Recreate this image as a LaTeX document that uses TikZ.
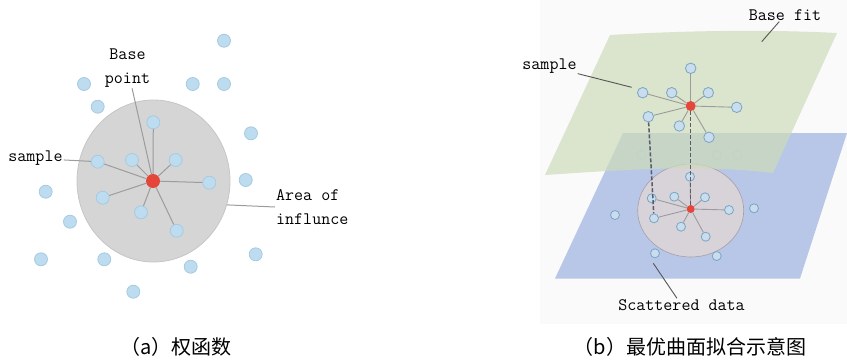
\documentclass[tikz,border=0pt]{standalone}
\usepackage{fontspec}
\usepackage{xcolor}
\newfontfamily\cjkfont{Noto Sans CJK SC}
\usetikzlibrary{positioning}
\usetikzlibrary{shapes.geometric}

\definecolor{dotfill}{HTML}{BEDCF0}
\definecolor{dotedge}{HTML}{A6CAE2}
\definecolor{lowfill}{HTML}{C9DDEE}
\definecolor{lowedge}{HTML}{78A6C2}
\definecolor{basered}{HTML}{E4463A}
\definecolor{linkgrey}{HTML}{9C9C9C}
\definecolor{areagrey}{HTML}{D5D5D5}
\definecolor{areaedge}{HTML}{C6C6C6}
\definecolor{discgrey}{HTML}{D7D3D9}
\definecolor{discedge}{HTML}{A59FA8}
\definecolor{blueplane}{HTML}{B8C7E8}
\definecolor{greenplane}{HTML}{CEDBBA}
\definecolor{panelbg}{HTML}{FAFAFA}
\definecolor{leadgrey}{HTML}{555555}
\definecolor{dashgrey}{HTML}{5A5A68}

\begin{document}
\begin{tikzpicture}[x=1pt,y=-1pt,
    sample node/.style={circle,draw=dotedge,fill=dotfill,line width=0.8pt,inner sep=0pt,minimum size=13pt},
    base node/.style={circle,fill=basered,inner sep=0pt,minimum size=14pt},
    low node/.style={circle,draw=lowedge,fill=lowfill,line width=0.8pt,inner sep=0pt,minimum size=9pt},
    up node/.style={low node,minimum size=10.5pt},
    ghost node/.style={circle,draw=lowedge!70,line width=0.8pt,inner sep=0pt,minimum size=9pt},
    label text/.style={font=\ttfamily\fontsize{17.5}{23.5}\selectfont,inner sep=1pt,align=left},
    link/.style={draw=linkgrey,line width=1pt},
    leader/.style={draw=leadgrey,line width=0.9pt},
    dashed link/.style={draw=dashgrey,line width=1.5pt,dash pattern=on 4pt off 2pt}]
\useasboundingbox (0,0) rectangle (847,360);

% (a) weight function
\node[ellipse,draw=areaedge,fill=areagrey,line width=0.8pt,minimum width=153pt,minimum height=162pt] (area) at (153.5,181) {};
\node[base node] (base) at (153,181) {};

\node[sample node] (s1) at (153.3,122.3) {};
\node[sample node] (s2) at (97.7,161.7) {};
\node[sample node] (s3) at (132,160) {};
\node[sample node] (s4) at (175.7,160) {};
\node[sample node] (s5) at (209.3,182.7) {};
\node[sample node] (s6) at (102.7,197.7) {};
\node[sample node] (s7) at (141,212.3) {};
\node[sample node] (s8) at (176.7,230.7) {};
\foreach \n in {1,...,8}
  \draw[link] (base) -- (s\n);

\foreach \x/\y [count=\i] in {224/40.7, 84/84, 192.7/84, 224/84, 97.7/106.7, 251/133.3,
    245.7/180, 45.7/191.7, 70/221.7, 41/259.3, 104.3/259.3, 190.7/266.7, 255.7/254.3, 133.3/291.7}
  \node[sample node] (o\i) at (\x,\y) {};

\node[label text,align=center] (basetext) at (127.5,68) {Base\\point};
\node[label text] (sampletext) at (35.5,158.5) {sample};
\node[label text,anchor=west] (areatext) at (275,207) {Area of\\influnce};
\draw[link] (basetext) -- (base);
\draw[link] (sampletext) -- (s2);
\draw[link] (area.-18) -- (areatext.west);

% (b) surface fit
\fill[panelbg] (540,0) rectangle (847,324);
\fill[blueplane] (623,133) -- (847,133) -- (800,278.5) -- (555,278.5) -- cycle;

\foreach \x/\y [count=\i] in {641.7/155, 716.7/155, 737.7/155}
  \node[ghost node] (g\i) at (\x,\y) {};

\node[ellipse,draw=discedge,fill=discgrey,line width=0.6pt,minimum width=106pt,minimum height=93pt] (disc) at (690.7,210.5) {};
\node[base node,minimum size=8pt] (lbase) at (690.7,209) {};
\node[low node] (l1) at (690,176.7) {};
\node[low node] (l2) at (651.7,198.3) {};
\node[low node] (l3) at (674.3,196.7) {};
\node[low node] (l4) at (705,197.3) {};
\node[low node] (l5) at (729,210) {};
\node[low node] (l6) at (654,218.3) {};
\node[low node] (l7) at (681,226.7) {};
\node[low node] (l8) at (705.7,236.7) {};
\foreach \n in {1,...,8}
  \draw[link,line width=0.9pt] (lbase) -- (l\n);
\foreach \x/\y [count=\i] in {615/215, 754/208.3, 655/253.3, 716.7/256}
  \node[low node] (m\i) at (\x,\y) {};

\fill[greenplane,fill opacity=0.7] (610,35) .. controls (680,31) and (760,29) .. (837,33)
  -- (773,173) .. controls (700,164) and (620,170) .. (545,175) -- cycle;

\node[base node,minimum size=10pt] (ubase) at (690.7,106) {};
\node[up node] (u1) at (690.7,68.3) {};
\node[up node] (u2) at (642.7,92.7) {};
\node[up node] (u3) at (671.7,92.7) {};
\node[up node] (u4) at (708.3,92.7) {};
\node[up node] (u5) at (736.7,107.3) {};
\node[up node] (u6) at (648.3,116.7) {};
\node[up node] (u7) at (679.3,126) {};
\node[up node] (u8) at (709,137.3) {};
\foreach \n in {1,...,8}
  \draw[link,line width=0.9pt] (ubase) -- (u\n);

\draw[dashed link] (u6) -- (l6);
\draw[dashed link] (ubase) -- (lbase);

\node[label text] (fittext) at (785,15) {Base fit};
\node[label text] (samptext) at (549.5,66.5) {sample};
\node[label text] (scattext) at (681.5,305) {Scattered data};
\coordinate (fitend) at (761.7,41.7);
\coordinate (sampend) at (631.7,87.3);
\coordinate (scatend) at (653.3,263.3);
\draw[leader] (fittext) -- (fitend);
\draw[leader] (samptext) -- (sampend);
\draw[leader] (scattext) -- (scatend);

% captions
\node[font=\cjkfont\fontsize{20}{22}\selectfont,inner sep=0pt] (capa) at (176,347) {（a）权函数};
\node[font=\cjkfont\fontsize{20}{22}\selectfont,inner sep=0pt] (capb) at (690,347) {（b）最优曲面拟合示意图};
\end{tikzpicture}
\end{document}
